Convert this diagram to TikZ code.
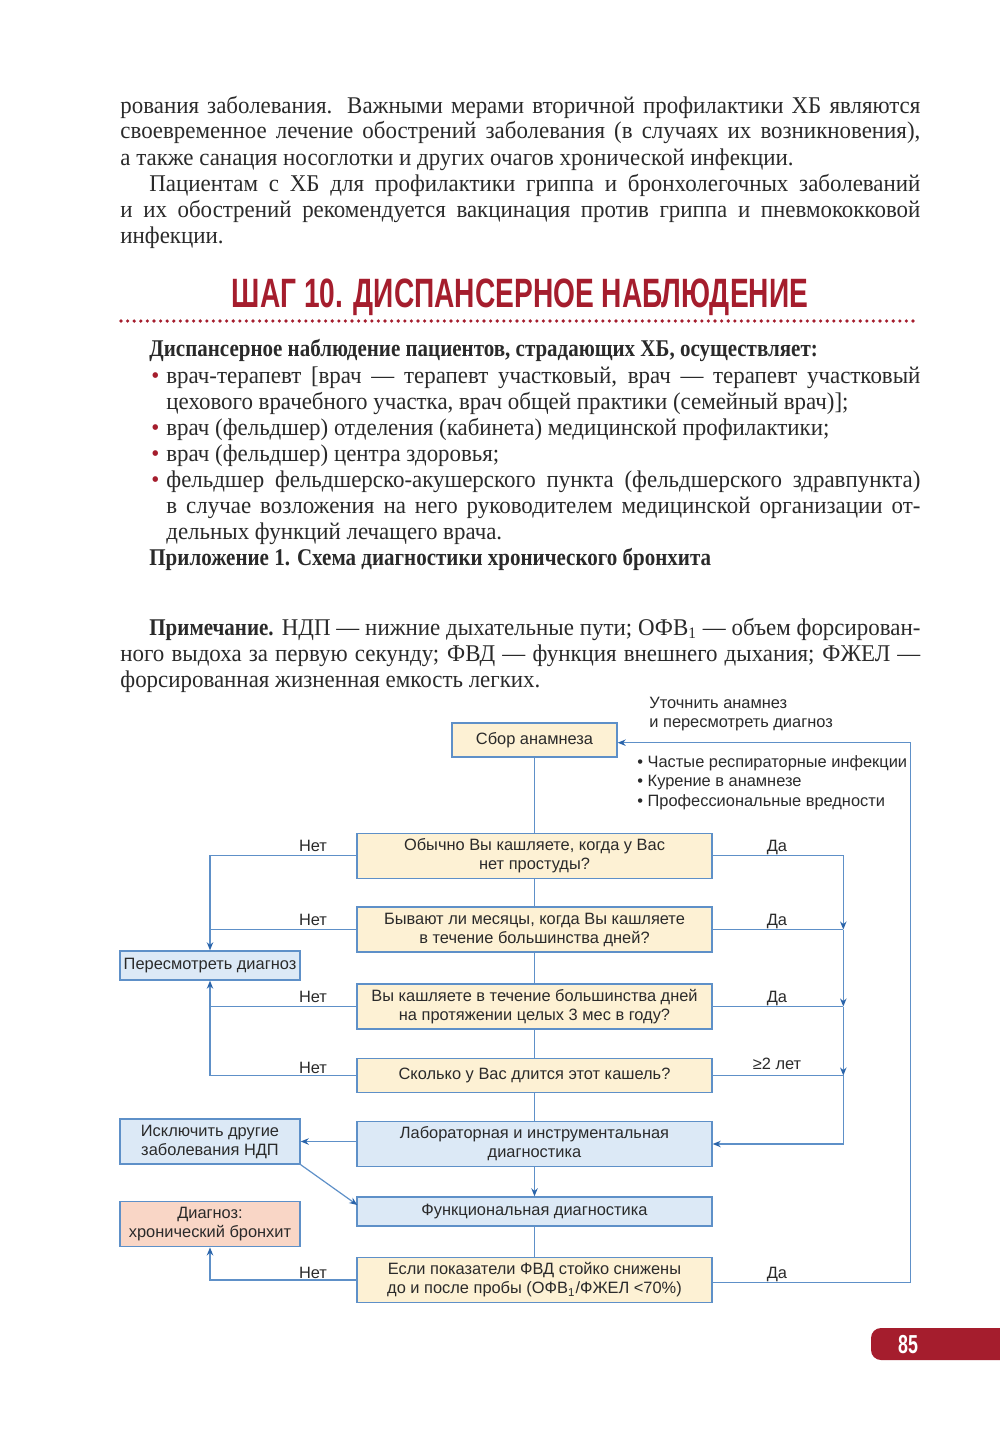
\documentclass[tikz,border=0pt]{standalone}
\usepackage{fontspec}
\setmainfont[FakeStretch=0.955]{Liberation Serif}
\newfontfamily\boldf[FakeStretch=0.875]{Liberation Serif}
\newfontfamily\sansf{Liberation Sans}
\newfontfamily\titlef[FakeStretch=0.686]{Liberation Sans}
\usetikzlibrary{arrows.meta,calc}
\definecolor{redc}{HTML}{A51D2D}
\definecolor{linec}{HTML}{5E90C8}
\definecolor{arrc}{HTML}{2A64AA}
\definecolor{yel}{HTML}{FDF1D4}
\definecolor{blu}{HTML}{DCE9F6}
\definecolor{sal}{HTML}{F9D6C6}
\definecolor{txt}{HTML}{2A2A2A}
\tikzset{
  box/.style={draw=linec, line width=0.7pt, font=\sansf\fontsize{8.2}{9.5}\selectfont, text=txt, align=center, inner sep=0pt},
  ybox/.style={box, fill=yel},
  bbox/.style={box, fill=blu},
  conn/.style={draw=linec, line width=0.6pt},
  arr/.style={conn, -{Stealth[length=4pt,width=3.2pt,color=arrc]}},
  lbl/.style={font=\sansf\fontsize{8.2}{10}\selectfont, text=txt, inner sep=0pt},
  bodyl/.style={anchor=base west, inner sep=0pt, font=\fontsize{12}{13}\selectfont, text=txt},
  boldl/.style={bodyl, font=\boldf\bfseries\fontsize{12}{13}\selectfont},
}
\newcommand{\jl}[2]{\makebox[#1][s]{#2}}
\begin{document}
\begin{tikzpicture}[x=0.5pt,y=-0.5pt]
\useasboundingbox[fill=white] (0,0) rectangle (1000,1429);
% body text
\node[bodyl] (t1) at (120,113) {\jl{400pt}{рования заболевания. Важными мерами вторичной профилактики ХБ являются}};
\node[bodyl] (t2) at (120,139) {\jl{400pt}{своевременное лечение обострений заболевания (в случаях их возникновения),}};
\node[bodyl] (t3) at (120,165) {а также санация носоглотки и других очагов хронической инфекции.};
\node[bodyl] (t4) at (149,191.5) {\jl{385.5pt}{Пациентам с ХБ для профилактики гриппа и бронхолегочных заболеваний}};
\node[bodyl] (t5) at (120,217.5) {\jl{400pt}{и их обострений рекомендуется вакцинация против гриппа и пневмококковой}};
\node[bodyl] (t6) at (120,243.5) {инфекции.};
% title
\node[anchor=base, inner sep=0pt, font=\titlef\bfseries\fontsize{20.5}{22}\selectfont, text=redc] (title) at (520,307) {ШАГ 10. ДИСПАНСЕРНОЕ НАБЛЮДЕНИЕ};
\draw[redc, line width=1.8pt, line cap=round, dash pattern=on 0pt off 3.3pt] (121,321) -- (918,321);
% list
\node[boldl] (h1) at (149,356) {Диспансерное наблюдение пациентов, страдающих ХБ, осуществляет:};
\node[bodyl, text=redc] (b1) at (151,383) {•};
\node[bodyl] (l1) at (166,383) {\jl{377pt}{врач-терапевт [врач — терапевт участковый, врач — терапевт участковый}};
\node[bodyl] (l2) at (166,409) {цехового врачебного участка, врач общей практики (семейный врач)];};
\node[bodyl, text=redc] (b2) at (151,435) {•};
\node[bodyl] (l3) at (166,435) {врач (фельдшер) отделения (кабинета) медицинской профилактики;};
\node[bodyl, text=redc] (b3) at (151,461) {•};
\node[bodyl] (l4) at (166,461) {врач (фельдшер) центра здоровья;};
\node[bodyl, text=redc] (b4) at (151,487) {•};
\node[bodyl] (l5) at (166,487) {\jl{377pt}{фельдшер фельдшерско-акушерского пункта (фельдшерского здравпункта)}};
\node[bodyl] (l6) at (166,513) {\jl{377pt}{в случае возложения на него руководителем медицинской организации от-}};
\node[bodyl] (l7) at (166,539) {дельных функций лечащего врача.};
\node[boldl] (h2) at (149,565) {Приложение 1. Схема диагностики хронического бронхита};
% note
\node[bodyl] (n1) at (149,635) {\jl{385.5pt}{{\boldf\bfseries Примечание.} НДП — нижние дыхательные пути; ОФВ\textsubscript{1} — объем форсирован-}};
\node[bodyl] (n2) at (120,661) {\jl{400pt}{ного выдоха за первую секунду; ФВД — функция внешнего дыхания; ФЖЕЛ —}};
\node[bodyl] (n3) at (120,687) {форсированная жизненная емкость легких.};
% flowchart
\node[ybox, minimum width=82.5pt, minimum height=17pt] (sbor) at (534.5,740) {Сбор анамнеза};
\node[ybox, minimum width=177.5pt, minimum height=22.5pt] (q1) at (534.5,855.8) {Обычно Вы кашляете, когда у Вас\\нет простуды?};
\node[ybox, minimum width=177.5pt, minimum height=22.5pt] (q2) at (534.5,929.5) {Бывают ли месяцы, когда Вы кашляете\\в течение большинства дней?};
\node[ybox, minimum width=177.5pt, minimum height=22.5pt] (q3) at (534.5,1006.5) {Вы кашляете в течение большинства дней\\на протяжении целых 3 мес в году?};
\node[ybox, minimum width=177.5pt, minimum height=17pt] (q4) at (534.5,1075.5) {Сколько у Вас длится этот кашель?};
\node[bbox, minimum width=177.5pt, minimum height=22.5pt] (lab) at (534.5,1144) {Лабораторная и инструментальная\\диагностика};
\node[bbox, minimum width=177.5pt, minimum height=14.5pt] (func) at (534.5,1211.5) {Функциональная диагностика};
\node[ybox, minimum width=177.5pt, minimum height=22.5pt] (last) at (534.5,1280) {Если показатели ФВД стойко снижены\\до и после пробы (ОФВ\textsubscript{1}/ФЖЕЛ <70\%)};
\node[bbox, minimum width=90pt, minimum height=14.5pt] (rev) at (210,965.5) {Пересмотреть диагноз};
\node[bbox, minimum width=90pt, minimum height=22.5pt] (excl) at (210,1141.5) {Исключить другие\\заболевания НДП};
\node[box, fill=sal, minimum width=90pt, minimum height=22.5pt] (diag) at (210,1224.2) {Диагноз:\\хронический бронхит};
% notes near top
\node[lbl, anchor=base west] (u1) at (649,708) {Уточнить анамнез};
\node[lbl, anchor=base west] (u2) at (649,727.5) {и пересмотреть диагноз};
\node[lbl, anchor=base west] (f1) at (637,767) {• Частые респираторные инфекции};
\node[lbl, anchor=base west] (f2) at (637,786.5) {• Курение в анамнезе};
\node[lbl, anchor=base west] (f3) at (637,806.5) {• Профессиональные вредности};
% labels
\node[lbl, anchor=base] (n1l) at (313,851) {Нет};
\node[lbl, anchor=base] (n2l) at (313,925) {Нет};
\node[lbl, anchor=base] (n3l) at (313,1002) {Нет};
\node[lbl, anchor=base] (n4l) at (313,1073) {Нет};
\node[lbl, anchor=base] (n5l) at (313,1278) {Нет};
\node[lbl, anchor=base] (d1l) at (777,851) {Да};
\node[lbl, anchor=base] (d2l) at (777,925) {Да};
\node[lbl, anchor=base] (d3l) at (777,1002) {Да};
\node[lbl, anchor=base] (d4l) at (777,1069) {≥2 лет};
\node[lbl, anchor=base] (d5l) at (777,1278.5) {Да};
% coordinates
\coordinate (R) at (843.3,0);
\coordinate (topR) at (910.5,742.7);
\coordinate (rb) at (910.5,1282.5);
\coordinate (dg) at (357.3,1205);
% center spine
\draw[conn] (sbor.south) -- (q1.north);
\draw[conn] (q1.south) -- (q2.north);
\draw[conn] (q2.south) -- (q3.north);
\draw[conn] (q3.south) -- (q4.north);
\draw[conn] (q4.south) -- (lab.north);
\draw[arr] (lab.south) -- (func.north);
\draw[conn] (func.south) -- (last.north);
% left (Нет)
\draw[arr] (q1.west) -| (rev.north);
\draw[conn] (q2.west) -- (q2.west -| rev.north);
\draw[conn] (q3.west) -- (q3.west -| rev.south);
\draw[arr] (q4.west) -| (rev.south);
\draw[arr] (last.west) -| (diag.south);
% right (Да)
\draw[arr] (q1.east) -| (q2.east -| R);
\draw[conn] (q2.east) -- (q2.east -| R);
\draw[arr] (q2.east -| R) -- (q3.east -| R);
\draw[conn] (q3.east) -- (q3.east -| R);
\draw[arr] (q3.east -| R) -- (q4.east -| R);
\draw[arr] (q4.east) -- (q4.east -| R) -- (lab.east -| R) -- (lab.east);
% lab -> exclude -> func
\draw[arr] (excl.east -| lab.west) -- (excl.east);
\draw[arr] (excl.south east) -- (dg);
% return loop
\draw[arr] (last.east |- rb) -- (rb) -- (topR) -- (sbor.east |- topR);
% page number
\fill[redc, rounded corners=5pt] (871,1328) rectangle (1012,1360);
\node[inner sep=0pt, font=\titlef\bfseries\fontsize{13}{13}\selectfont, text=white] (pnum) at (908,1345) {85};
\end{tikzpicture}
\end{document}
